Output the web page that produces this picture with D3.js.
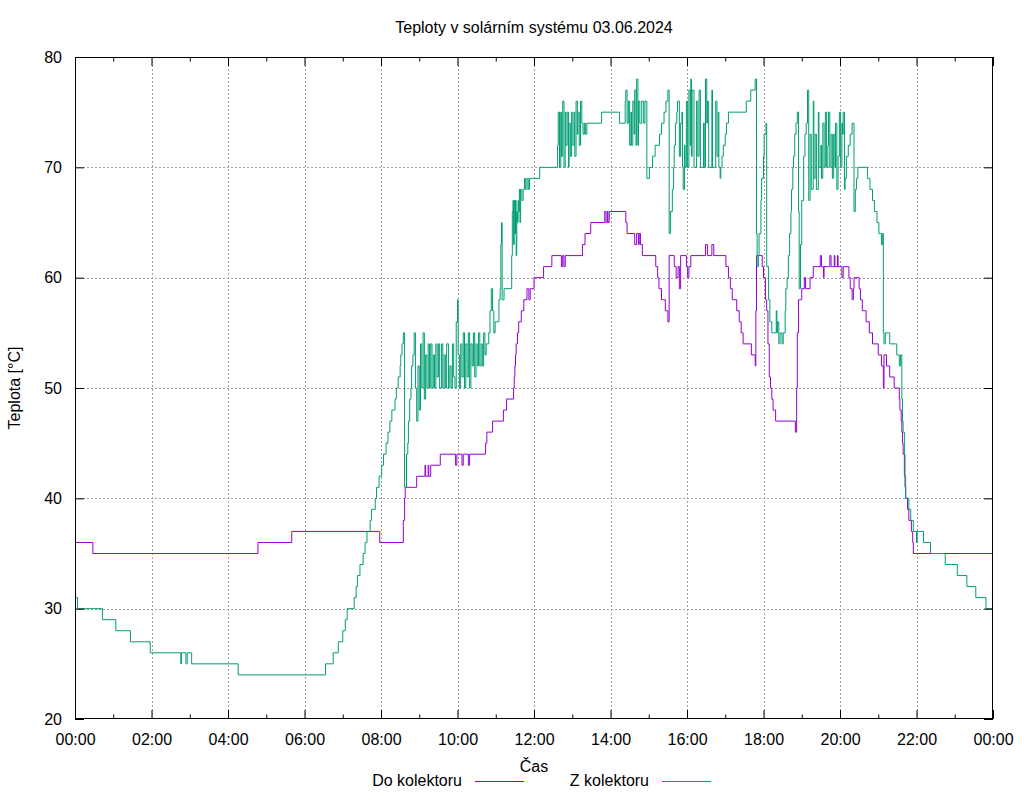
<!DOCTYPE html>
<html><head><meta charset="utf-8">
<script src="https://cdn.jsdelivr.net/npm/d3@7"></script>
<style>
body{margin:0;background:#fff}
svg text{font-family:"Liberation Sans",Arial,sans-serif;fill:#000}
</style>
</head><body>
<svg id="chart" width="1024" height="800"></svg>
<script>
const chartTitle = "Teploty v solárním systému 03.06.2024";
const xAxisTitle = "Čas";
const yAxisTitle = "Teplota [°C]";
const xTickLabels = ["00:00","02:00","04:00","06:00","08:00","10:00","12:00","14:00","16:00","18:00","20:00","22:00","00:00"];
const yTickValues = [20,30,40,50,60,70,80];
const seriesNames = ["Do kolektoru","Z kolektoru"];
const seriesColors = ["#9400d3","#009e73"];

const doKolektoru = [
["00:00",36],["00:28",35],["04:47",36],["05:40",37],["07:58",36],["08:35",38],["08:37",40],["08:38",41],["08:56",42],
["09:09",43],["09:10",42],["09:14",43],["09:15",42],["09:18",43],["09:33",44],["09:57",43],["09:59",44],["10:07",43],
["10:09",44],["10:17",43],["10:19",44],["10:44",45],["10:46",46],["10:55",47],["11:12",48],["11:17",49],["11:28",50],
["11:29",51],["11:30",52],["11:31",53],["11:32",54],["11:34",55],["11:36",56],["11:40",57],["11:44",58],["11:49",59],
["11:52",58],["11:54",59],["12:00",60],["12:15",61],["12:28",62],["12:43",61],["12:45",62],["12:47",61],["12:49",62],
["13:16",63],["13:20",64],["13:29",65],["13:51",66],["13:53",65],["13:55",66],["13:56",65],["13:58",66],["14:24",65],
["14:26",64],["14:38",63],["14:41",64],["14:44",63],["14:45",64],["14:47",63],["14:50",62],["15:11",61],["15:14",60],
["15:16",59],["15:20",58],["15:26",57],["15:30",56],["15:32",62],["15:40",61],["15:43",60],["15:46",61],["15:48",59],
["15:50",62],["15:59",61],["16:01",60],["16:03",61],["16:06",62],["16:29",63],["16:32",62],["16:39",63],["16:42",62],
["17:01",61],["17:05",60],["17:08",59],["17:11",58],["17:18",57],["17:22",56],["17:25",55],["17:28",54],["17:41",53],
["17:47",52],["17:48",57],["17:49",62],["17:58",61],["18:00",60],["18:03",58],["18:05",57],["18:07",54],["18:09",51],
["18:11",50],["18:13",49],["18:15",48],["18:19",47],["18:50",46],["18:52",50],["18:53",55],["18:55",58],["19:00",59],
["19:04",60],["19:06",59],["19:13",60],["19:18",61],["19:29",62],["19:31",61],["19:34",60],["19:35",61],["19:44",62],
["19:46",61],["19:51",62],["19:52",61],["19:56",62],["19:57",61],["20:03",60],["20:05",61],["20:14",60],["20:16",59],
["20:19",58],["20:21",59],["20:22",60],["20:30",59],["20:32",58],["20:35",57],["20:41",56],["20:46",55],["20:51",54],
["21:00",53],["21:05",52],["21:08",50],["21:09",53],["21:13",52],["21:18",51],["21:25",50],["21:33",49],["21:34",48],
["21:36",47],["21:37",46],["21:38",45],["21:39",44],["21:41",42],["21:42",41],["21:43",40],["21:46",39],["21:48",38],
["21:52",37],["21:54",36],["21:55",35],["24:00",35]
];

const zKolektoru = [
["00:00",31],["00:04",30],["00:43",29],["01:04",28],["01:27",27],["01:58",26],["02:46",25],["02:47",26],["02:54",25],
["02:56",26],["03:03",25],["04:16",24],["06:33",25],["06:45",26],["06:53",27],["07:00",28],["07:04",29],["07:07",30],
["07:18",31],["07:21",32],["07:23",33],["07:27",34],["07:32",35],["07:35",36],["07:38",37],["07:43",38],["07:45",39],
["07:51",40],["07:53",41],["07:57",42],["08:01",43],["08:04",44],["08:08",45],["08:11",46],["08:14",47],["08:17",48],
["08:22",49],["08:24",50],["08:27",51],["08:30",52],["08:31",53],["08:33",54],["08:35",55],["08:37",41],["08:40",44],
["08:42",45],["08:43",47],["08:45",49],["08:47",50],["08:48",52],["08:50",53],["08:52",55],["08:54",50],["08:56",47],
["08:58",52],["09:00",48],["09:02",54],["09:04",50],["09:06",55],["09:08",49],["09:10",53],["09:12",50],["09:14",54],
["09:16",50],["09:18",54],["09:20",50],["09:22",53],["09:24",50],["09:26",54],["09:28",51],["09:30",54],["09:32",50],
["09:35",54],["09:37",50],["09:39",53],["09:41",50],["09:43",54],["09:46",50],["09:48",52],["09:50",50],["09:52",54],
["09:54",51],["09:56",50],["09:58",56],["10:00",58],["10:01",53],["10:03",50],["10:05",54],["10:07",51],["10:09",55],
["10:11",50],["10:13",54],["10:15",51],["10:17",55],["10:19",50],["10:21",54],["10:23",52],["10:25",55],["10:27",51],
["10:29",54],["10:31",52],["10:33",55],["10:35",52],["10:37",54],["10:39",52],["10:41",55],["10:43",53],["10:45",54],
["10:49",55],["10:51",57],["10:53",59],["10:55",57],["10:57",55],["10:59",56],["11:05",58],["11:07",59],["11:08",63],
["11:09",65],["11:10",58],["11:13",59],["11:25",62],["11:26",66],["11:27",67],["11:28",63],["11:29",67],["11:30",64],
["11:31",67],["11:32",62],["11:33",66],["11:34",65],["11:35",67],["11:36",66],["11:37",68],["11:38",65],["11:39",68],
["11:41",67],["11:43",68],["11:45",69],["11:47",68],["11:49",69],["11:51",68],["11:53",69],["12:09",70],["12:37",72],
["12:38",75],["12:40",70],["12:42",75],["12:43",71],["12:45",76],["12:47",70],["12:49",75],["12:50",72],["12:52",75],
["12:54",70],["12:55",74],["12:57",71],["12:59",75],["13:01",72],["13:03",75],["13:04",71],["13:06",76],["13:08",73],
["13:09",75],["13:11",72],["13:13",76],["13:15",74],["13:17",73],["13:19",74],["13:21",73],["13:23",74],["13:46",75],
["14:14",74],["14:23",76],["14:24",77],["14:26",74],["14:28",76],["14:30",72],["14:32",75],["14:33",72],["14:35",76],
["14:37",73],["14:38",77],["14:40",72],["14:41",78],["14:43",72],["14:44",76],["14:46",74],["14:49",76],["14:52",74],
["14:54",76],["14:57",69],["15:01",70],["15:06",71],["15:10",72],["15:17",73],["15:20",74],["15:24",75],["15:27",76],
["15:30",77],["15:32",64],["15:34",66],["15:37",68],["15:39",70],["15:40",72],["15:42",74],["15:44",75],["15:45",76],
["15:48",71],["15:50",74],["15:52",75],["15:53",70],["15:54",68],["15:56",72],["15:57",70],["15:59",76],["16:01",70],
["16:03",77],["16:05",72],["16:06",78],["16:07",71],["16:08",77],["16:11",70],["16:15",76],["16:17",71],["16:19",77],
["16:21",70],["16:26",74],["16:27",70],["16:29",78],["16:31",74],["16:32",76],["16:34",70],["16:39",77],["16:40",70],
["16:45",76],["16:47",71],["16:49",75],["16:50",70],["16:52",69],["16:53",70],["16:55",71],["16:57",72],["17:00",73],
["17:02",74],["17:05",75],["17:33",76],
["17:40",77],["17:47",78],["17:49",64],["17:50",61],["17:52",62],["17:53",64],["17:56",67],["17:57",69],["18:00",71],
["18:01",73],["18:04",74],["18:05",61],["18:08",58],["18:10",56],["18:13",55],["18:20",57],["18:21",55],["18:22",56],
["18:24",54],["18:26",55],["18:29",54],["18:31",55],["18:34",57],["18:35",59],["18:37",60],["18:39",62],["18:41",64],
["18:43",66],["18:44",68],["18:46",70],["18:47",71],["18:49",73],["18:51",74],["18:53",75],["18:55",66],["18:56",59],
["18:58",63],["19:00",67],["19:03",71],["19:05",73],["19:07",74],["19:09",77],["19:11",67],["19:13",73],["19:15",68],
["19:18",76],["19:19",69],["19:21",73],["19:23",68],["19:26",75],["19:27",70],["19:30",72],["19:31",69],["19:33",74],
["19:35",70],["19:37",75],["19:39",70],["19:41",72],["19:42",75],["19:44",70],["19:46",73],["19:48",69],["19:50",73],
["19:52",70],["19:53",74],["19:55",68],["19:57",71],["19:59",75],["20:01",70],["20:03",74],["20:04",73],["20:05",75],
["20:07",68],["20:08",69],["20:10",71],["20:13",72],["20:16",73],["20:19",74],["20:22",66],["20:24",68],["20:26",69],
["20:28",70],["20:43",69],["20:47",68],["20:51",67],["20:54",66],["20:58",65],["21:01",64],["21:05",63],["21:07",64],
["21:08",55],["21:09",54],["21:11",55],["21:18",54],["21:29",53],["21:33",52],["21:35",53],["21:37",49],["21:38",47],
["21:39",46],["21:41",44],["21:42",42],["21:43",40],["21:48",39],["21:51",38],["21:55",37],["22:00",36],["22:01",37],
["22:11",36],["22:22",35],["22:45",34],["23:04",33],["23:19",32],["23:33",31],["23:49",30],["24:00",30]
];

const toMinutes = s => { const p = s.split(":").map(Number); return p[0]*60 + p[1]; };
const series = [doKolektoru, zKolektoru].map(arr => arr.map(([t,v]) => ({t: toMinutes(t), v})));

const svg = d3.select("#chart");
const L = 75, R = 993, T = 57, B = 719;
const x = d3.scaleLinear().domain([0, 1440]).range([L, R]);
const y = d3.scaleLinear().domain([20, 80]).range([B, T]);

svg.append("rect").attr("width",1024).attr("height",800).attr("fill","#fff");

const majorX = xTickLabels.map((_, i) => i * 120);
const minorX = d3.range(60, 1440, 120);

// grid
const grid = svg.append("g").attr("stroke","#a0a0a0").attr("stroke-width",1).attr("stroke-dasharray","2,2");
majorX.slice(1, -1).forEach(m => grid.append("line").attr("x1", Math.round(x(m))+0.5).attr("x2", Math.round(x(m))+0.5).attr("y1", T).attr("y2", B));
yTickValues.slice(1, -1).forEach(v => grid.append("line").attr("x1", L).attr("x2", R).attr("y1", Math.round(y(v))+0.5).attr("y2", Math.round(y(v))+0.5));

// data lines
const line = d3.line().x(d => x(d.t)).y(d => y(d.v)).curve(d3.curveStepAfter);
series.forEach((s, i) => {
  svg.append("path").datum(s).attr("d", line).attr("fill","none")
    .attr("stroke", seriesColors[i]).attr("stroke-width", 1);
});

// axes
function styleAxis(g){ g.select(".domain").remove(); g.selectAll(".tick line").attr("stroke","#000"); g.selectAll("text").style("font-size","16px").attr("fill","#000"); }
svg.append("g").attr("transform",`translate(0,${B})`)
  .call(d3.axisBottom(x).tickValues(majorX).tickFormat((d,i) => xTickLabels[i]).tickSizeInner(-9).tickSizeOuter(0).tickPadding(15))
  .call(styleAxis);
svg.append("g").attr("transform",`translate(0,${B})`)
  .call(d3.axisBottom(x).tickValues(minorX).tickFormat("").tickSizeInner(-4.5).tickSizeOuter(0))
  .call(styleAxis);
svg.append("g").attr("transform",`translate(0,${T})`)
  .call(d3.axisTop(x).tickValues(majorX).tickFormat("").tickSizeInner(-9).tickSizeOuter(0))
  .call(styleAxis);
svg.append("g").attr("transform",`translate(0,${T})`)
  .call(d3.axisTop(x).tickValues(minorX).tickFormat("").tickSizeInner(-4.5).tickSizeOuter(0))
  .call(styleAxis);
svg.append("g").attr("transform",`translate(${L},0)`)
  .call(d3.axisLeft(y).tickValues(yTickValues).tickSizeInner(-9).tickSizeOuter(0).tickPadding(13))
  .call(styleAxis);
svg.append("g").attr("transform",`translate(${R},0)`)
  .call(d3.axisRight(y).tickValues(yTickValues).tickFormat("").tickSizeInner(-9).tickSizeOuter(0))
  .call(styleAxis);

// border
svg.append("rect").attr("x", L+0.5).attr("y", T+0.5).attr("width", R-L-1).attr("height", B-T-1)
  .attr("fill","none").attr("stroke","#000").attr("stroke-width",1);

// titles
svg.append("text").attr("x", (L+R)/2).attr("y", 33).attr("text-anchor","middle").style("font-size","16px").text(chartTitle);
svg.append("text").attr("x", (L+R)/2).attr("y", 772).attr("text-anchor","middle").style("font-size","16px").text(xAxisTitle);
svg.append("text").attr("transform",`translate(20,${(T+B)/2}) rotate(-90)`).attr("text-anchor","middle")
  .style("font-size","16px").text(yAxisTitle);

// legend
const legendX = [462, 649];
seriesNames.forEach((n, i) => {
  svg.append("text").attr("x", legendX[i]).attr("y", 786).attr("text-anchor","end").style("font-size","16px").text(n);
  svg.append("line").attr("x1", legendX[i]+13).attr("x2", legendX[i]+62).attr("y1", 781.5).attr("y2", 781.5)
    .attr("stroke", seriesColors[i]).attr("stroke-width", 1);
});
</script>
</body></html>
